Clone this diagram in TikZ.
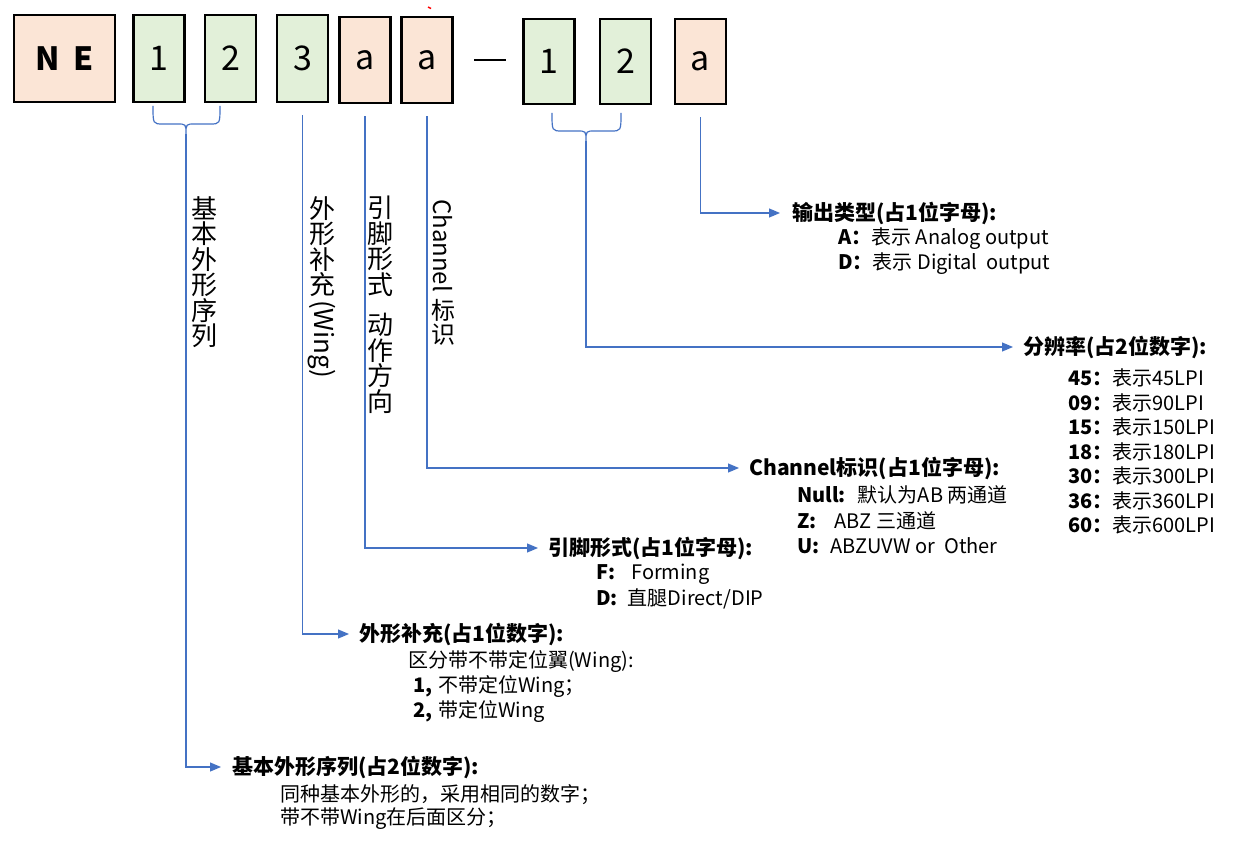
\documentclass[tikz,border=0pt]{standalone}
\usepackage{fontspec}
\setmainfont{Noto Sans CJK SC}
\usepackage{graphicx}
\usetikzlibrary{arrows.meta}
\definecolor{peach}{HTML}{FBE5D6}
\definecolor{mint}{HTML}{E2F0D9}
\definecolor{lineblue}{HTML}{4472C4}
\begin{document}
\begin{tikzpicture}[x=1pt,y=-1pt,
 box/.style={draw=black, line width=2.2pt, inner sep=0pt, minimum height=87pt, minimum width=51pt, font=\fontsize{34}{34}\selectfont},
 pk/.style={box, fill=peach},
 gr/.style={box, fill=mint},
 conn/.style={draw=lineblue, line width=1.2pt},
 arr/.style={conn, -{Triangle[length=11pt,width=9pt]}},
 head/.style={anchor=west, inner sep=0pt, font=\fontsize{21}{21}\selectfont\bfseries},
 body/.style={anchor=west, inner sep=0pt, font=\fontsize{20}{20}\selectfont},
 vtext/.style={anchor=north, inner sep=0pt, align=center, font=\fontsize{26}{25.5}\selectfont}]
\useasboundingbox (0,0) rectangle (1242,850);
% boxes
\node[pk, minimum width=101pt, font=\fontsize{32}{32}\selectfont\bfseries] (ne) at (64.5,58.5) {N\hspace{14pt}E};
\node[gr] (g1) at (159,58.5) {1};
\node[gr] (g2) at (230.5,58.5) {2};
\node[gr] (g3) at (302.5,58.5) {3};
\node[pk, minimum height=86pt] (pa1) at (365,60) {a};
\node[pk, minimum height=86pt] (pa2) at (427,60) {a};
\node[gr, minimum height=85pt] (g4) at (549,61.5) {1};
\node[gr, minimum height=85pt] (g5) at (625.5,61.5) {2};
\node[pk, minimum height=85pt] (pa3) at (700.5,61.5) {a};
\draw[line width=1.8pt] (474,60) -- (506,60);
\draw[red, line width=1.5pt] (428,7) -- (431,8.5);
% braces
\coordinate (br1) at (186,134);
\coordinate (br2) at (586,141);
\draw[conn] (153,106) .. controls (153,124) and (153,124) .. (163,124) -- (177,124)
  .. controls (186,124) .. (br1) .. controls (186,124) .. (195,124) -- (210,124)
  .. controls (220,124) and (220,124) .. (220,106);
\draw[conn] (552,113) .. controls (552,131) and (552,131) .. (562,131) -- (577,131)
  .. controls (586,131) .. (br2) .. controls (586,131) .. (595,131) -- (611,131)
  .. controls (621,131) and (621,131) .. (621,113);
% vertical labels
\node[vtext] (v1) at (204,196) {基\\本\\外\\形\\序\\列};
\node[vtext] (v2) at (322,196) {外\\形\\补\\充\\[-20pt]\rotatebox{-90}{(Wing)}};
\node[vtext] (v3) at (380,196) {引\\脚\\形\\式\\[15pt]动\\作\\方\\向};
\node[vtext, font=\fontsize{24}{24.5}\selectfont] (v4) at (443,199) {\rotatebox{-90}{Channel}\\[6pt]标\\识};
% output type
\node[head] (hOut) at (792,213) {输出类型(占1位字母):};
\node[body] (o1) at (838,239) {\textbf{A：}表示 Analog output};
\node[body] (o2) at (838,264) {\textbf{D：}表示 Digital\ \ output};
% resolution
\node[head] (hRes) at (1023,347) {分辨率(占2位数字):};
\node[body] (r1) at (1068,378) {\textbf{45：}表示45LPI};
\node[body] (r2) at (1068,402.5) {\textbf{09：}表示90LPI};
\node[body] (r3) at (1068,427) {\textbf{15：}表示150LPI};
\node[body] (r4) at (1068,451.5) {\textbf{18：}表示180LPI};
\node[body] (r5) at (1068,476) {\textbf{30：}表示300LPI};
\node[body] (r6) at (1068,500.5) {\textbf{36：}表示360LPI};
\node[body] (r7) at (1068,525) {\textbf{60：}表示600LPI};
% channel
\node[head] (hCh) at (749,468) {Channel标识(占1位字母):};
\node[body] (c1) at (797,495) {\textbf{Null:}\hspace{12pt}默认为AB 两通道};
\node[body] (c2) at (797,521) {\textbf{Z:}\hspace{18pt}ABZ 三通道};
\node[body] (c3) at (797,546) {\textbf{U:}\hspace{11pt}ABZUVW or\ \ Other};
% pin
\node[head] (hPin) at (548,548) {引脚形式(占1位字母):};
\node[body] (p1) at (596,574) {\textbf{F:}\hspace{16pt}Forming};
\node[body] (p2) at (596,599) {\textbf{D:}\hspace{10pt}直腿Direct/DIP};
% wing
\node[head] (hWing) at (359,634) {外形补充(占1位数字):};
\node[body] (w1) at (408,662) {区分带不带定位翼(Wing):};
\node[body] (w2) at (413,687) {\textbf{1,}\hspace{6pt}不带定位Wing；};
\node[body] (w3) at (413,712) {\textbf{2,}\hspace{6pt}带定位Wing};
% base
\node[head] (hBase) at (232,767) {基本外形序列(占2位数字):};
\node[body] (bt1) at (280,795) {同种基本外形的，采用相同的数字；};
\node[body] (bt2) at (280,819) {带不带Wing在后面区分；};
% connectors
\draw[arr] ([yshift=-12pt]pa3.south) |- ([xshift=-12pt]hOut.west);
\draw[arr] (br2) |- ([xshift=-10pt]hRes.west);
\draw[arr] ([yshift=-12pt]pa2.south) |- ([xshift=-10pt]hCh.west);
\draw[arr] ([yshift=-12pt]pa1.south) |- ([xshift=-10pt]hPin.west);
\draw[arr] ([yshift=-12pt]g3.south) |- ([xshift=-10pt]hWing.west);
\draw[arr] (br1) |- ([xshift=-11pt]hBase.west);
\end{tikzpicture}
\end{document}
